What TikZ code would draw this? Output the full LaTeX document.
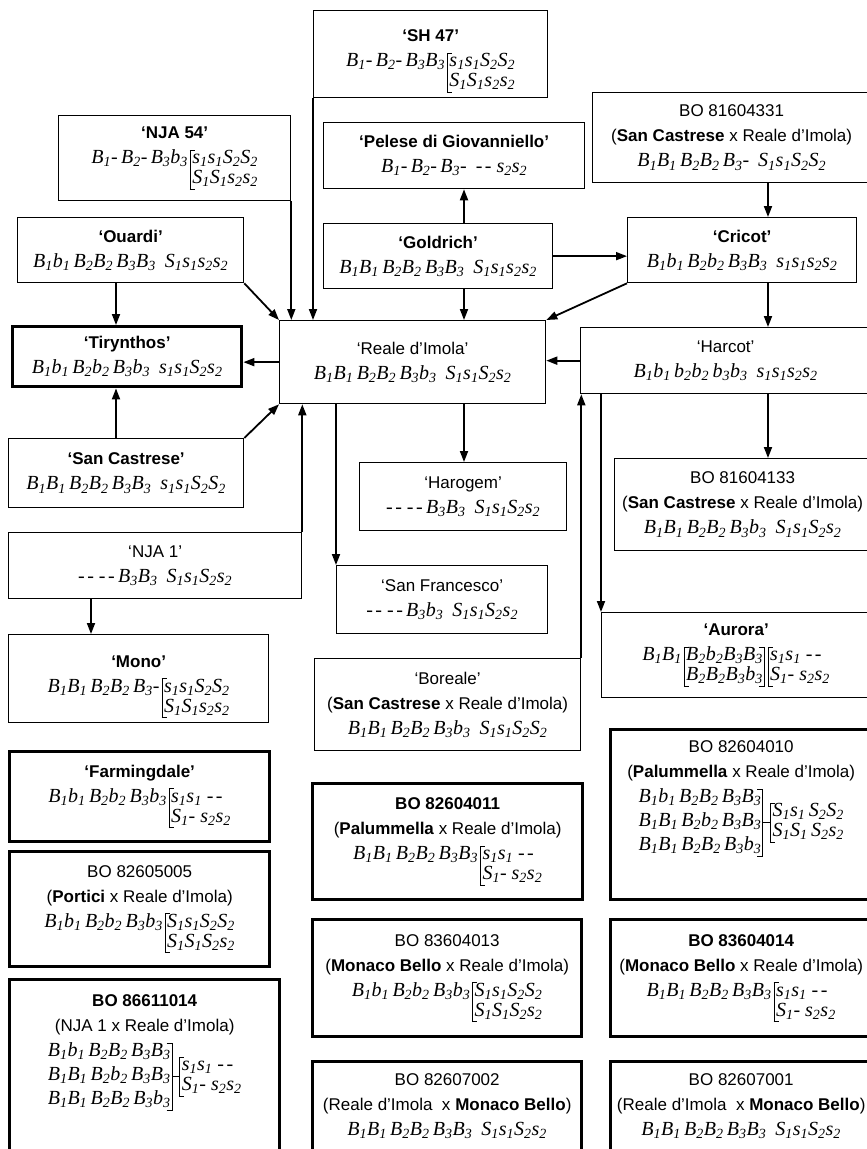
\documentclass[tikz,border=0pt]{standalone}
\usepackage{fontspec}
\setmainfont{Liberation Sans}
\newfontfamily\genfont{Liberation Serif}
\usetikzlibrary{arrows.meta}

% Genotype pieces
\newlength\gA \setlength\gA{14pt}
\newlength\gD \setlength\gD{6pt}
\newlength\gL \setlength\gL{20pt}
\newlength\gM \setlength\gM{24pt}
\newlength\gT \setlength\gT{0.9pt}
\newcommand\al[2]{#1\textsubscript{#2}}
\newcommand\gt[1]{{\genfont\itshape\fontsize{20}{20}\selectfont#1}}
\newcommand\dd{-\kern2.5pt-}
\newcommand\gp{\hspace{0.45em}}
\newcommand\gline[1]{\hbox{\vrule width0pt height\gA depth\gD #1}}
% [ bracket round two lines, first line on the baseline
\newcommand\lbrx[2]{%
  \rlap{\vrule height\gA depth-\dimexpr\gA-\gT\relax width5pt}%
  \rlap{\vrule height-\dimexpr\gL+\gD-\gT\relax depth\dimexpr\gL+\gD\relax width5pt}%
  \vrule height\gA depth\dimexpr\gL+\gD\relax width\gT
  \kern1.5pt
  \vtop{\baselineskip\gL\lineskiplimit-\maxdimen\gline{#1}\gline{#2}}}
\newcommand\lbr[2]{\kern2pt\lbrx{#1}{#2}}
% ] bracket after two lines
\newcommand\rbr{\kern1pt
  \llap{\vrule height\gA depth-\dimexpr\gA-\gT\relax width5pt}%
  \llap{\vrule height-\dimexpr\gL+\gD-\gT\relax depth\dimexpr\gL+\gD\relax width5pt}%
  \vrule height\gA depth\dimexpr\gL+\gD\relax width\gT\kern3pt}
% three lines ]--[ two lines
\newcommand\tribr[5]{%
  \vtop{\baselineskip\gM\lineskiplimit-\maxdimen\gline{#1}\gline{#2}\gline{#3}}%
  \kern1pt
  \llap{\vrule height\gA depth-\dimexpr\gA-\gT\relax width5pt}%
  \llap{\vrule height-\dimexpr2\gM+\gD-\gT\relax depth\dimexpr2\gM+\gD\relax width5pt}%
  \vrule height\gA depth\dimexpr2\gM+\gD\relax width\gT
  \vrule height-\dimexpr(2\gM+\gD-\gA-\gT)/2\relax depth\dimexpr(2\gM+\gD-\gA+\gT)/2\relax width7pt
  \lower\dimexpr(2\gM-\gL)/2\relax\hbox{\lbrx{#4}{#5}}}

\begin{document}
\begin{tikzpicture}[
  x=1pt, y=-1pt,
  box/.style={draw, line width=1.3pt, inner sep=0pt, anchor=north west,
    align=center, font=\fontsize{17}{25}\selectfont},
  heavy/.style={box, line width=3.4pt},
  link/.style={line width=1.8pt, -{Triangle[length=11pt,width=8pt]}}
]
  \useasboundingbox (0,0) rectangle (867,1149);
  \clip (0,0) rectangle (867,1149);

  % Lanes of the vertical arrows
  \coordinate (gcol) at (464,0);
  \coordinate (ccol) at (768,0);
  \coordinate (lcol) at (116,0);
  \coordinate (mcol) at (91,0);

  % Top rows
  \node[box, minimum width=234pt, minimum height=87pt, text height=51pt] (sh47) at (313,10)
    {\textbf{‘SH 47’}\\ \gt{\al B1-\,\al B2-\,\al B3\al B3\lbr{\al s1\al s1\al S2\al S2}{\al S1\al S1\al s2\al s2}}};
  \node[box, minimum width=278pt, minimum height=90pt] (bo331) at (592,92)
    {BO 81604331\\(\textbf{San Castrese} x Reale d’Imola)\\ \gt{\al B1\al B1\,\al B2\al B2\,\al B3-\gp\al S1\al s1\al S2\al S2}};
  \node[box, minimum width=232pt, minimum height=85pt] (nja54) at (58,115)
    {\textbf{‘NJA 54’}\\ \gt{\al B1-\,\al B2-\,\al B3\al b3\lbr{\al s1\al s1\al S2\al S2}{\al S1\al S1\al s2\al s2}}};
  \node[box, minimum width=261pt, minimum height=66pt] (pelese) at (323,122)
    {\textbf{‘Pelese di Giovanniello’}\\ \gt{\al B1-\,\al B2-\,\al B3-\gp\dd\ \al s2\al s2}};
  \node[box, minimum width=226pt, minimum height=65pt] (ouardi) at (17,217)
    {\textbf{‘Ouardi’}\\ \gt{\al B1\al b1\,\al B2\al B2\,\al B3\al B3\gp\al S1\al s1\al s2\al s2}};
  \node[box, minimum width=229pt, minimum height=65pt] (goldrich) at (323,223)
    {\textbf{‘Goldrich’}\\ \gt{\al B1\al B1\,\al B2\al B2\,\al B3\al B3\gp\al S1\al s1\al s2\al s2}};
  \node[box, minimum width=229pt, minimum height=65pt] (cricot) at (627,217)
    {\textbf{‘Cricot’}\\ \gt{\al B1\al b1\,\al B2\al b2\,\al B3\al B3\gp\al s1\al s1\al s2\al s2}};

  % Middle row
  \node[heavy, minimum width=229pt, minimum height=60pt] (tiryn) at (11,325)
    {\textbf{‘Tirynthos’}\\ \gt{\al B1\al b1\,\al B2\al b2\,\al B3\al b3\gp\al s1\al s1\al S2\al s2}};
  \node[box, minimum width=266pt, minimum height=83pt] (reale) at (279,320)
    {‘Reale d’Imola’\\ \gt{\al B1\al B1\,\al B2\al B2\,\al B3\al b3\gp\al S1\al s1\al S2\al s2}};
  \node[box, minimum width=290pt, minimum height=66pt] (harcot) at (580,327)
    {‘Harcot’\\ \gt{\al B1\al b1\,\al b2\al b2\,\al b3\al b3\gp\al s1\al s1\al s2\al s2}};

  % Offspring of the middle row
  \node[box, minimum width=235pt, minimum height=69pt] (sancast) at (8,438)
    {\textbf{‘San Castrese’}\\ \gt{\al B1\al B1\,\al B2\al B2\,\al B3\al B3\gp\al s1\al s1\al S2\al S2}};
  \node[box, minimum width=207pt, minimum height=68pt] (harogem) at (359,462)
    {‘Harogem’\\ \gt{\dd\ \dd\,\al B3\al B3\gp\al S1\al s1\al S2\al s2}};
  \node[box, minimum width=256pt, minimum height=92pt] (bo133) at (614,458)
    {BO 81604133\\(\textbf{San Castrese} x Reale d’Imola)\\ \gt{\al B1\al B1\,\al B2\al B2\,\al B3\al b3\gp\al S1\al s1\al S2\al s2}};
  \node[box, minimum width=293pt, minimum height=66pt] (nja1) at (8,532)
    {‘NJA 1’\\ \gt{\dd\ \dd\,\al B3\al B3\gp\al S1\al s1\al S2\al s2}};
  \node[box, minimum width=211pt, minimum height=68pt] (sanfran) at (336,565)
    {‘San Francesco’\\ \gt{\dd\ \dd\,\al B3\al b3\gp\al S1\al s1\al S2\al s2}};
  \node[box, minimum width=260pt, minimum height=88pt, text height=53pt] (mono) at (8,634)
    {\textbf{‘Mono’}\\ \gt{\al B1\al B1\,\al B2\al B2\,\al B3-\lbr{\al s1\al s1\al S2\al S2}{\al S1\al S1\al s2\al s2}}};
  \node[box, minimum width=269pt, minimum height=85pt] (aurora) at (601,612)
    {\textbf{‘Aurora’}\\ \gt{\al B1\al B1\lbr{\al B2\al b2\al B3\al B3}{\al B2\al B2\al B3\al b3}\rbr\lbrx{\al s1\al s1\ \dd}{\al S1-\ \al s2\al s2}}};
  \node[box, minimum width=266pt, minimum height=92pt] (boreale) at (314,658)
    {‘Boreale’\\(\textbf{San Castrese} x Reale d’Imola)\\ \gt{\al B1\al B1\,\al B2\al B2\,\al B3\al b3\gp\al S1\al s1\al S2\al S2}};

  % Lower boxes
  \node[heavy, minimum width=260pt, minimum height=90pt] (farm) at (8,750)
    {\textbf{‘Farmingdale’}\\ \gt{\al B1\al b1\,\al B2\al b2\,\al B3\al b3\lbr{\al s1\al s1\ \dd}{\al S1-\ \al s2\al s2}}};
  \node[heavy, minimum width=261pt, minimum height=170pt, text depth=86pt] (bo010) at (609,728)
    {BO 82604010\\(\textbf{Palummella} x Reale d’Imola)\\ \gt{\tribr{\al B1\al b1\,\al B2\al B2\,\al B3\al B3}{\al B1\al B1\,\al B2\al b2\,\al B3\al B3}{\al B1\al B1\,\al B2\al B2\,\al B3\al b3}{\al S1\al s1\,\al S2\al S2}{\al S1\al S1\,\al S2\al s2}}};
  \node[heavy, minimum width=270pt, minimum height=116pt] (bo011) at (311,782)
    {\textbf{BO 82604011}\\(\textbf{Palummella} x Reale d’Imola)\\ \gt{\al B1\al B1\,\al B2\al B2\,\al B3\al B3\lbr{\al s1\al s1\ \dd}{\al S1-\ \al s2\al s2}}};
  \node[heavy, minimum width=260pt, minimum height=115pt] (bo005) at (8,850)
    {BO 82605005\\(\textbf{Portici} x Reale d’Imola)\\ \gt{\al B1\al b1\,\al B2\al b2\,\al B3\al b3\lbr{\al S1\al s1\al S2\al S2}{\al S1\al S1\al S2\al s2}}};
  \node[heavy, minimum width=269pt, minimum height=117pt] (bo013) at (311,918)
    {BO 83604013\\(\textbf{Monaco Bello} x Reale d’Imola)\\ \gt{\al B1\al b1\,\al B2\al b2\,\al B3\al b3\lbr{\al S1\al s1\al S2\al S2}{\al S1\al S1\al S2\al s2}}};
  \node[heavy, minimum width=261pt, minimum height=117pt] (bo014) at (609,918)
    {\textbf{BO 83604014}\\(\textbf{Monaco Bello} x Reale d’Imola)\\ \gt{\al B1\al B1\,\al B2\al B2\,\al B3\al B3\lbr{\al s1\al s1\ \dd}{\al S1-\ \al s2\al s2}}};
  \node[heavy, minimum width=270pt, minimum height=190pt, text depth=98pt] (bo614) at (8,978)
    {\textbf{BO 86611014}\\(NJA 1 x Reale d’Imola)\\ \gt{\tribr{\al B1\al b1\,\al B2\al B2\,\al B3\al B3}{\al B1\al B1\,\al B2\al b2\,\al B3\al B3}{\al B1\al B1\,\al B2\al B2\,\al B3\al b3}{\al s1\al s1\ \dd}{\al S1-\ \al s2\al s2}}};
  \node[heavy, minimum width=269pt, minimum height=95pt, text depth=10pt] (bo002) at (311,1060)
    {BO 82607002\\(Reale d’Imola\ \ x \textbf{Monaco Bello})\\ \gt{\al B1\al B1\,\al B2\al B2\,\al B3\al B3\gp\al S1\al s1\al S2\al s2}};
  \node[heavy, minimum width=261pt, minimum height=95pt, text depth=10pt] (bo001) at (609,1060)
    {BO 82607001\\(Reale d’Imola\ \ x \textbf{Monaco Bello})\\ \gt{\al B1\al B1\,\al B2\al B2\,\al B3\al B3\gp\al S1\al s1\al S2\al s2}};

  % Arrows into 'Reale d'Imola'
  \draw[link] (ouardi.south east) -- (reale.north west);
  \draw[link] (nja54.south east) -- (nja54.south east |- reale.north);
  \draw[link] (sh47.south west) -- (sh47.south west |- reale.north);
  \draw[link] (goldrich.south -| gcol) -- (reale.north -| gcol);
  \draw[link] (cricot.south west) -- (reale.north east);
  \draw[link] (harcot.west) -- (harcot.west -| reale.east);
  \draw[link] (sancast.north east) -- (reale.south west);
  \draw[link] (nja1.north east) -- (nja1.north east |- reale.south);

  % Other arrows
  \draw[link] (goldrich.north -| gcol) -- (pelese.south -| gcol);
  \draw[link] (goldrich.east) -- (goldrich.east -| cricot.west);
  \draw[link] (bo331.south -| ccol) -- (cricot.north -| ccol);
  \draw[link] (cricot.south -| ccol) -- (harcot.north -| ccol);
  \draw[link] (harcot.south -| ccol) -- (bo133.north -| ccol);
  \draw[link] (ouardi.south -| lcol) -- (tiryn.north -| lcol);
  \draw[link] (sancast.north -| lcol) -- (tiryn.south -| lcol);
  \draw[link] (reale.west) -- (reale.west -| tiryn.east);
  \draw[link] (nja1.south -| mcol) -- (mono.north -| mcol);
  \draw[link] (reale.south -| gcol) -- (harogem.north -| gcol);
  \draw[link] (sanfran.north west |- reale.south) -- (sanfran.north west);
  \draw[link] (boreale.north east) -- (boreale.north east |- harcot.south);
  \draw[link] (aurora.north west |- harcot.south) -- (aurora.north west);
\end{tikzpicture}
\end{document}
